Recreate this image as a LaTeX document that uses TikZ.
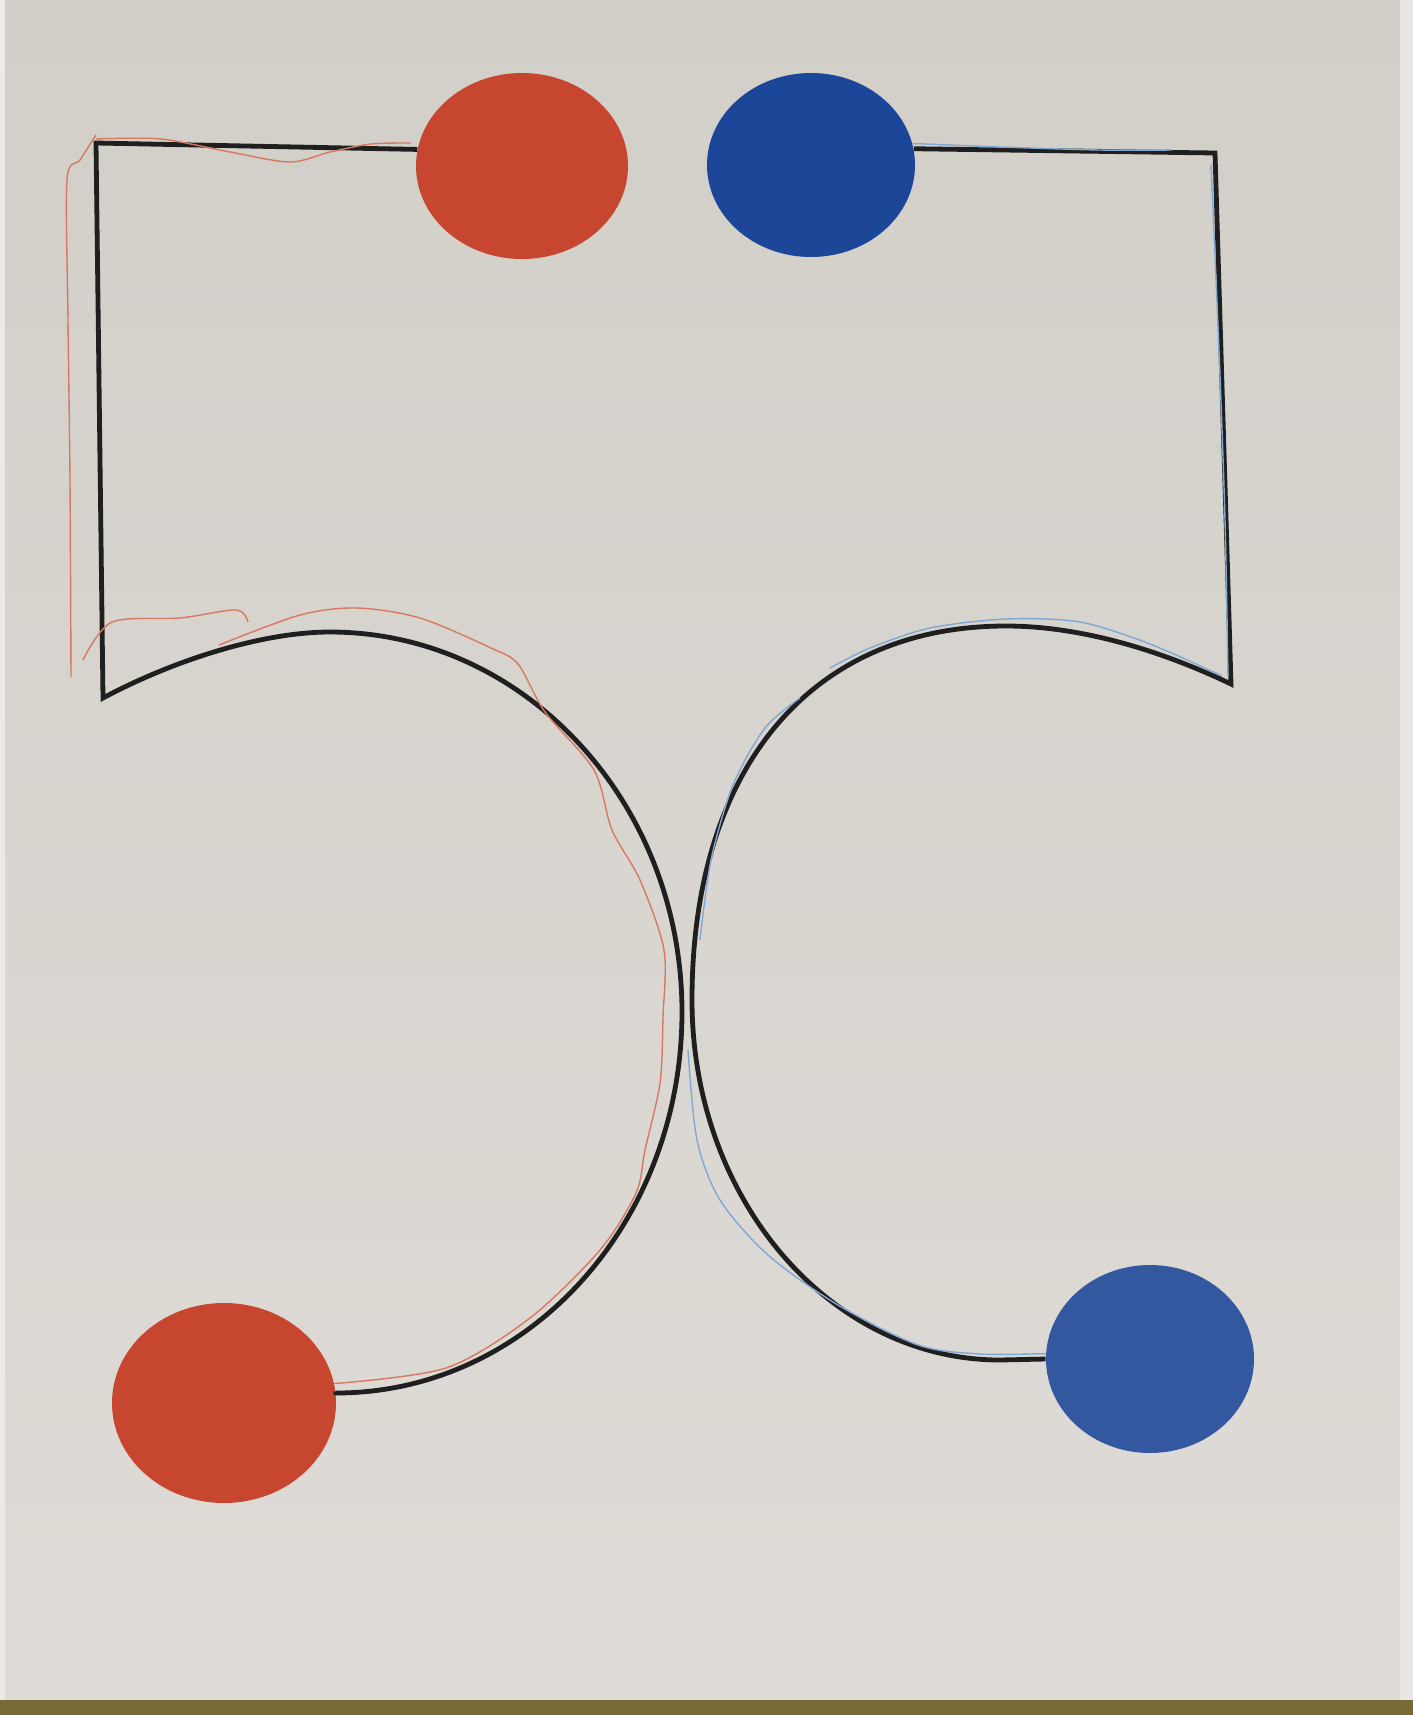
\documentclass[tikz,border=0pt]{standalone}
\usepackage{tikz}
\usetikzlibrary{shapes.geometric}

\definecolor{paper}{RGB}{210,206,200}
\definecolor{paperlow}{RGB}{223,220,215}
\definecolor{cloth}{RGB}{120,106,52}
\definecolor{dotred}{RGB}{198,70,48}
\definecolor{dotblue}{RGB}{28,70,152}
\definecolor{dotbluelow}{RGB}{52,88,160}
\definecolor{pencilred}{RGB}{214,120,98}
\definecolor{pencilblue}{RGB}{128,168,212}

\tikzset{
  dot/.style={ellipse, inner sep=0pt, draw=none},
  wire/.style={line width=2.4pt, draw=black!88, line join=miter},
  pencil/.style={line width=0.7pt}
}

\begin{document}
\begin{tikzpicture}[x=0.5pt, y=-0.5pt]
    % sheet of paper
    \shade[top color=paper, bottom color=paperlow] (0,0) rectangle (1400,1700);
    \fill[paperlow!60!white] (0,0) rectangle (5,1700);
    \fill[paperlow!70!white] (1400,0) rectangle (1413,1700);
    \fill[cloth] (0,1700) rectangle (1413,1715);
    \useasboundingbox (0,0) rectangle (1413,1715);

    % dots
    \node[dot, fill=dotred, minimum width=106pt, minimum height=93pt] (redtop) at (522,166) {};
    \node[dot, fill=dotblue, minimum width=104pt, minimum height=92pt] (bluetop) at (811,165) {};
    \node[dot, fill=dotred, minimum width=112pt, minimum height=100pt] (redbot) at (224,1403) {};
    \node[dot, fill=dotbluelow, minimum width=104pt, minimum height=94pt] (bluebot) at (1150,1359) {};

    % corners and turning points
    \coordinate (tl) at (96,143);
    \coordinate (bl) at (103,698);
    \coordinate (ltop) at (330,632);
    \coordinate (lmid) at (682,1012);
    \coordinate (lend) at (336,1393);
    \coordinate (tr) at (1215,153);
    \coordinate (br) at (1231,684);
    \coordinate (rtop) at (1006,626);
    \coordinate (rmid) at (692,1000);
    \coordinate (rend) at (1000,1360);

    % left wire
    \draw[wire] (redtop.171) -- (tl) -- (bl)
        .. controls (170,662) and (260,632) .. (ltop)
        .. controls (524,632) and (682,802) .. (lmid)
        .. controls (682,1223) and (528,1393) .. (lend) -- (redbot.6);

    % right wire
    \draw[wire] (bluetop.9) -- (tr) -- (br)
        .. controls (1160,650) and (1080,626) .. (rtop)
        .. controls (811,626) and (692,768) .. (rmid)
        .. controls (692,1199) and (830,1360) .. (rend) -- (bluebot.west);

    % red pencil
    \draw[pencil, pencilred] plot[smooth] coordinates {(96,135) (80,160) (67,180) (68,320) (70,480) (71,677)};
    \draw[pencil, pencilred] plot[smooth] coordinates {(96,139) (161,139) (230,152) (290,162) (330,152) (371,144) (411,143)};
    \draw[pencil, pencilred] plot[smooth] coordinates {(83,660) (112,622) (180,618) (236,610) (248,622)};
    \draw[pencil, pencilred] plot[smooth] coordinates {(219,645) (300,615) (357,608) (420,618) (491,648) (518,664) (545,712) (594,770) (612,830) (640,880) (664,950) (663,1017) (660,1083) (645,1150) (636,1193) (600,1250) (530,1318) (446,1368) (redbot.10)};

    % blue pencil
    \draw[pencil, pencilblue] plot[smooth] coordinates {(bluetop.12) (1000,147) (1100,150) (1172,150)};
    \draw[pencil, pencilblue] plot[smooth] coordinates {(1211,165) (1219,350) (1225,520) (1228,676)};
    \draw[pencil, pencilblue] plot[smooth] coordinates {(1222,676) (1150,644) (1080,622) (1006,619) (930,628) (870,648) (830,668)};
    \draw[pencil, pencilblue] plot[smooth] coordinates {(800,698) (765,728) (733,785) (711,860) (700,940)};
    \draw[pencil, pencilblue] plot[smooth] coordinates {(688,1050) (697,1140) (720,1200) (768,1255) (838,1305) (918,1345) (980,1354) (bluebot.177)};
\end{tikzpicture}
\end{document}
